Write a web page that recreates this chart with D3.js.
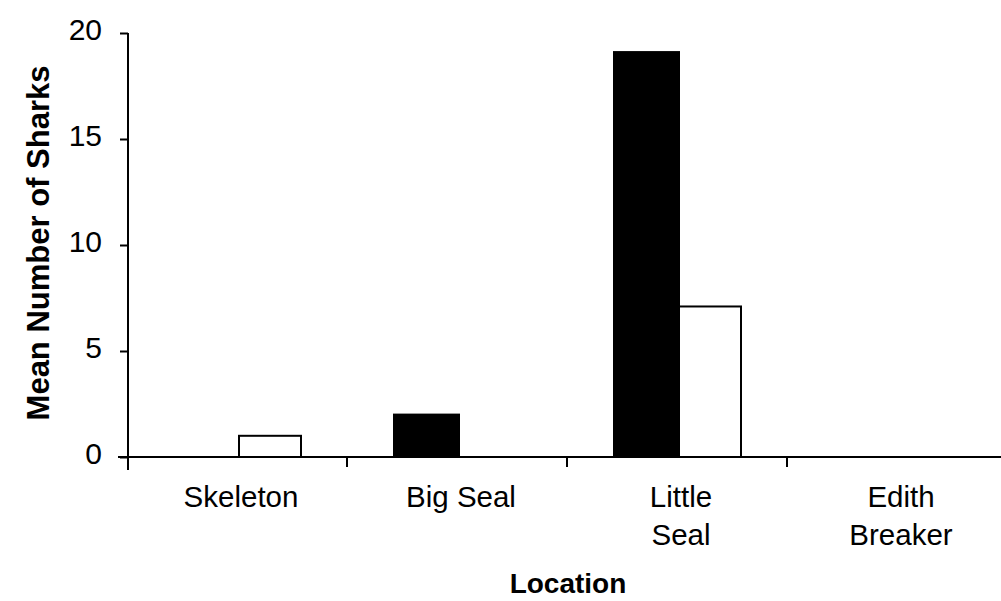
<!DOCTYPE html>
<html><head><meta charset="utf-8">
<script src="https://cdn.jsdelivr.net/npm/d3@7"></script>
<style>body{margin:0;background:#fff}svg{display:block}text{font-family:"Liberation Sans",Arial,sans-serif;fill:#000}</style>
</head><body>
<svg id="c" width="1001" height="601"></svg>
<script>
const categories = [["Skeleton"], ["Big Seal"], ["Little", "Seal"], ["Edith", "Breaker"]];
const seriesBlack = [0, 2, 19.1, 0];
const seriesWhite = [1, 0, 7.1, 0];
const yTicks = [0, 5, 10, 15, 20];

const svg = d3.select("#c");
const x0 = 128, x1 = 1008, yTop = 33, yBot = 457;
const x = d3.scaleBand().domain(d3.range(categories.length)).range([x0, x1]).padding(0);
const y = d3.scaleLinear().domain([0, 20]).range([yBot, yTop]);

// bars
const g = svg.append("g");
categories.forEach((c, i) => {
  const cx = x(i) + x.bandwidth() / 2;
  if (seriesBlack[i] > 0)
    g.append("rect").attr("x", cx - 64).attr("y", y(seriesBlack[i])).attr("width", 65)
      .attr("height", y(0) - y(seriesBlack[i])).attr("fill", "#000").attr("stroke", "#000").attr("stroke-width", 2);
  if (seriesWhite[i] > 0)
    g.append("rect").attr("x", cx + 1).attr("y", y(seriesWhite[i])).attr("width", 62)
      .attr("height", y(0) - y(seriesWhite[i])).attr("fill", "#fff").attr("stroke", "#000").attr("stroke-width", 2);
});

// y axis
const ya = svg.append("g").attr("transform", `translate(${x0},0)`)
  .call(d3.axisLeft(y).tickValues(yTicks).tickSize(8).tickPadding(18));
ya.select(".domain").remove();
ya.selectAll(".tick line").attr("stroke", "#000").attr("stroke-width", 2);
ya.selectAll(".tick text").style("font-size", "30px").attr("dy", "0.2em").attr("fill", "#000");
svg.append("line").attr("x1", x0).attr("x2", x0).attr("y1", yTop).attr("y2", yBot + 13)
  .attr("stroke", "#000").attr("stroke-width", 2);

// x axis
svg.append("line").attr("x1", 118).attr("x2", 1001).attr("y1", yBot).attr("y2", yBot)
  .attr("stroke", "#000").attr("stroke-width", 2);
d3.range(1, categories.length).forEach(i => {
  svg.append("line").attr("x1", x(i) - 1).attr("x2", x(i) - 1).attr("y1", yBot).attr("y2", yBot + 10)
    .attr("stroke", "#000").attr("stroke-width", 2);
});

// category labels
categories.forEach((c, i) => {
  const cx = x(i) + x.bandwidth() / 2 + 3;
  const t = svg.append("text").attr("text-anchor", "middle").style("font-size", "29.5px");
  c.forEach((line, k) => {
    t.append("tspan").attr("x", cx).attr("y", 507 + k * 38).text(line);
  });
});

// axis titles
svg.append("text").attr("x", 568).attr("y", 593).attr("text-anchor", "middle")
  .style("font-size", "28px").style("font-weight", "bold").text("Location");
svg.append("text").attr("transform", "translate(49,243) rotate(-90)").attr("text-anchor", "middle")
  .style("font-size", "31px").style("font-weight", "bold").text("Mean Number of Sharks");
</script>
</body></html>
